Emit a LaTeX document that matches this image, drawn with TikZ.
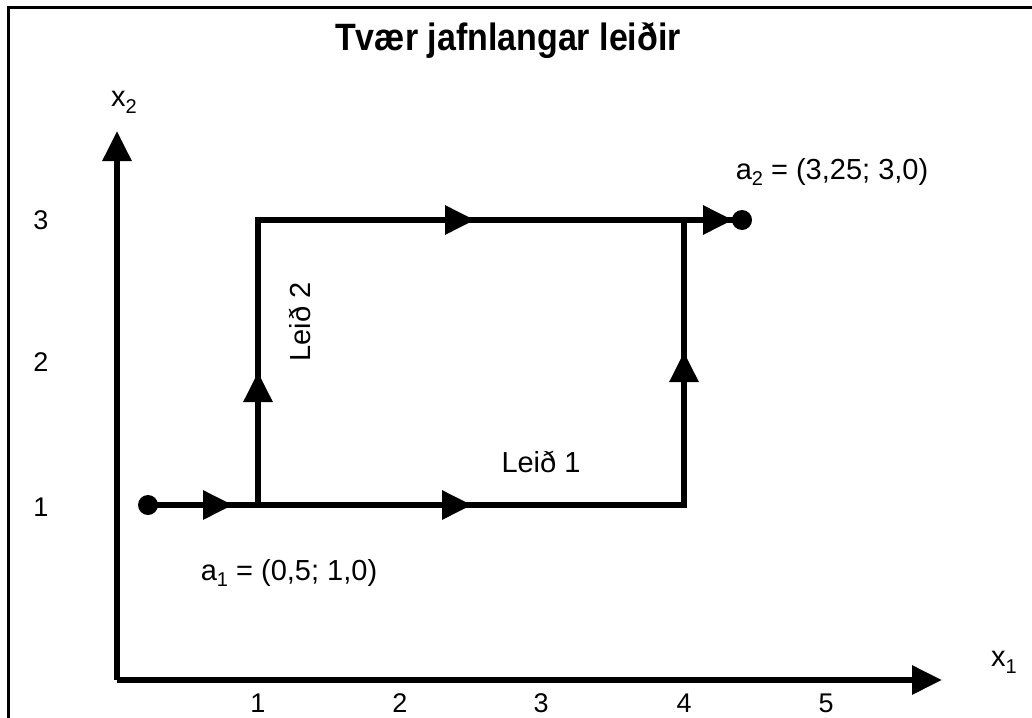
\documentclass[tikz,border=0pt]{standalone}
\usepackage{fontspec}
\setmainfont{Liberation Sans}
\usetikzlibrary{arrows.meta}
\newcommand\mysub[1]{\raisebox{-0.45ex}{\fontsize{20}{20}\selectfont #1}}
\tikzset{
  path/.style={line width=6pt},
  tri/.style={path,-{Triangle[length=30pt,width=28pt]}},
  dot/.style={circle,fill=black,inner sep=0pt,minimum size=20pt},
  lbl/.style={font=\fontsize{29}{29}\selectfont,inner sep=0pt},
  tick/.style={font=\fontsize{27}{27}\selectfont,inner sep=0pt},
  ttl/.style={font=\fontsize{34}{34}\selectfont\bfseries,inner sep=0pt}
}
\begin{document}
\begin{tikzpicture}[x=1pt,y=-1pt]
\useasboundingbox (0,0) rectangle (1032,717);
% frame
\draw[line width=3pt] (8.5,720) -- (8.5,7.5) -- (1035,7.5);
\node[ttl] (title) at (508,41) {\scalebox{1}[1.12]{Tvær jafnlangar leiðir}};
% axes
\coordinate (O) at (117,680);
\coordinate (xend) at (942,680);
\coordinate (yend) at (117,131);
\draw[tri] (O) -- (xend);
\draw[tri] (O) -- (yend);
\node[lbl] (xlab) at (1004,662) {x\mysub{1}};
\node[lbl] (ylab) at (124,102) {x\mysub{2}};
% ticks
\node[tick] (t1) at (258,703) {1};
\node[tick] (t2) at (400,703) {2};
\node[tick] (t3) at (541,703) {3};
\node[tick] (t4) at (684,703) {4};
\node[tick] (t5) at (826,703) {5};
\node[tick] (u1) at (41,507) {1};
\node[tick] (u2) at (41,362) {2};
\node[tick] (u3) at (41,220) {3};
% points
\node[dot] (a1) at (148,505) {};
\node[dot] (a2) at (742,220) {};
\coordinate (c1) at (258,505);
\coordinate (c2) at (684,505);
\coordinate (c3) at (258,220);
\coordinate (c4) at (684,220);
% paths
\draw[path,line join=miter] (a1.center) -- (c2) -- (c4);
\draw[path,line join=miter] (c1) -- (c3) -- (a2.center);
% arrows
\coordinate (m0) at (233,505);
\coordinate (m1) at (472,505);
\coordinate (m2) at (258,372);
\coordinate (m3) at (684,352);
\coordinate (m4) at (475,220);
\coordinate (m5) at (733,220);
\draw[tri] (a1.center) -- (m0);
\draw[tri] (c1) -- (m1);
\draw[tri] (c1) -- (m2);
\draw[tri] (c2) -- (m3);
\draw[tri] (c3) -- (m4);
\draw[tri] (c4) -- (m5);
% labels
\node[lbl,rotate=90] (l2) at (300,322) {Leið 2};
\node[lbl] (l1) at (541,462) {Leið 1};
\node[lbl] (la1) at (289,573) {a\mysub{1} = (0,5; 1,0)};
\node[lbl] (la2) at (832,172) {a\mysub{2} = (3,25; 3,0)};
\end{tikzpicture}
\end{document}
